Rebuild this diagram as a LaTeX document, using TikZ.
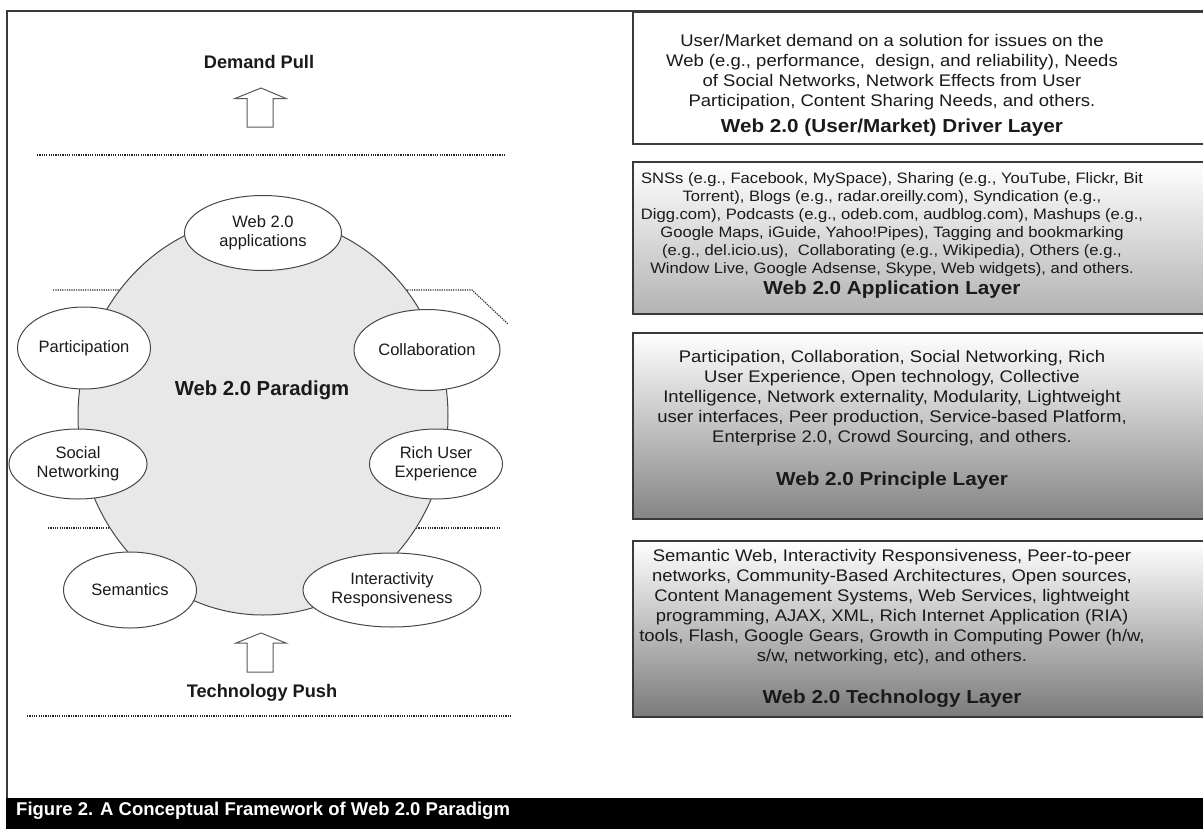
\documentclass[tikz,border=0pt]{standalone}
\usepackage{fontspec}
\setmainfont{Liberation Sans}
\newfontfamily\widesans[FakeStretch=1.1]{Liberation Sans}
\usetikzlibrary{shapes.geometric}
\definecolor{ink}{HTML}{1A1A1A}
\definecolor{rim}{HTML}{3A3A3A}
\begin{document}
\begin{tikzpicture}[x=1pt,y=-1pt,
  frameline/.style={draw=rim,line width=1.4pt},
  sepline/.style={draw=black!85,line width=1.1pt,dash pattern=on 1.2pt off 1.1pt},
  idea/.style={ellipse,draw=black!72,fill=white,line width=1pt,inner sep=0pt,
    align=center,text=ink,font=\fontsize{16.5}{19}\selectfont},
  pushpull/.style={draw=black!65,fill=white,line width=1pt,line join=miter},
  layerbox/.style={draw=rim,line width=1.3pt},
  fadebox/.style={layerbox,top color=white,bottom color=#1},
  layertext/.style={align=center,text=ink,inner sep=0pt},
  layertitle/.style={text=ink,inner sep=0pt,font=\widesans\bfseries\fontsize{18.8}{22}\selectfont},
  forcelabel/.style={text=ink,inner sep=0pt,font=\bfseries\fontsize{18.2}{22}\selectfont}]
\path[use as bounding box,clip] (0,0) rectangle (1203,828);
\fill[white] (0,0) rectangle (1203,828);

% outer frame and caption bar
\draw[frameline] (7,798) -- (7,11) -- (1215,11);
\fill[black] (6.3,798) rectangle (1215,830);
\node[anchor=west,text=white,inner sep=0pt,font=\bfseries\fontsize{18.5}{22}\selectfont]
  (caption) at (16,811) {Figure 2. A Conceptual Framework of Web 2.0 Paradigm};

% layer separators
\draw[sepline] (37,155) -- (506,155);
\draw[sepline] (53,290) -- (472,290) -- (508,324);
\draw[sepline] (48,528) -- (499,528);
\draw[sepline] (27,716) -- (512,716);

% demand pull / technology push
\node[forcelabel] (demand) at (259,62) {Demand Pull};
\draw[pushpull] (247,127) -- (247,98.5) -- (235,98.5) -- (261,88) -- (286,98.5)
  -- (273,98.5) -- (273,127) -- cycle;
\node[forcelabel] (techpush) at (262,693) {Technology Push};
\draw[pushpull] (247,672) -- (247,643) -- (236,643) -- (261,633) -- (286,643)
  -- (273,643) -- (273,672) -- cycle;

% paradigm core
\node[ellipse,draw=black!72,fill=black!9,line width=1pt,minimum width=370pt,
  minimum height=398pt,inner sep=0pt] (core) at (263,416) {};
\node[text=ink,inner sep=0pt,font=\bfseries\fontsize{20.3}{24}\selectfont]
  (paradigm) at (262,390) {Web 2.0 Paradigm};

\node[idea,minimum width=157pt,minimum height=75pt] (apps) at (263,233) {Web 2.0\\applications};
\node[idea,minimum width=133pt,minimum height=82pt] (part) at (84,348) {Participation};
\node[idea,minimum width=146pt,minimum height=81pt] (collab) at (427,350) {Collaboration};
\node[idea,minimum width=138pt,minimum height=70pt] (social) at (78,464) {Social\\Networking};
\node[idea,minimum width=133pt,minimum height=70pt] (rich) at (436,464) {Rich User\\Experience};
\node[idea,minimum width=133pt,minimum height=76pt] (sem) at (130,590) {Semantics};
\node[idea,minimum width=178pt,minimum height=74pt] (inter) at (392,590) {Interactivity\\Responsiveness};

% layer boxes
\path[layerbox,fill=white] (633,12) rectangle (1215,144);
\path[fadebox=black!30] (633,162) rectangle (1215,314);
\path[fadebox=black!48] (633,333) rectangle (1215,519);
\path[fadebox=black!52] (633,541) rectangle (1215,717);

\node[layertext,font=\widesans\fontsize{16.8}{20}\selectfont] (drivertext) at (892,72)
  {User/Market demand on a solution for issues on the\\
   Web (e.g., performance,\ \ design, and reliability), Needs\\
   of Social Networks, Network Effects from User\\
   Participation, Content Sharing Needs, and others.};
\node[layertitle] (drivertitle) at (892,128) {Web 2.0 (User/Market) Driver Layer};

\node[layertext,font=\widesans\fontsize{15.1}{18}\selectfont] (apptext) at (892,225)
  {SNSs (e.g., Facebook, MySpace), Sharing (e.g., YouTube, Flickr, Bit\\
   Torrent), Blogs (e.g., radar.oreilly.com), Syndication (e.g.,\\
   Digg.com), Podcasts (e.g., odeb.com, audblog.com), Mashups (e.g.,\\
   Google Maps, iGuide, Yahoo!Pipes), Tagging and bookmarking\\
   (e.g., del.icio.us),\ \ Collaborating (e.g., Wikipedia), Others (e.g.,\\
   Window Live, Google Adsense, Skype, Web widgets), and others.};
\node[layertitle] (apptitle) at (892,290) {Web 2.0 Application Layer};

\node[layertext,font=\widesans\fontsize{16.8}{20}\selectfont] (principletext) at (892,398)
  {Participation, Collaboration, Social Networking, Rich\\
   User Experience, Open technology, Collective\\
   Intelligence, Network externality, Modularity, Lightweight\\
   user interfaces, Peer production, Service-based Platform,\\
   Enterprise 2.0, Crowd Sourcing, and others.};
\node[layertitle] (principletitle) at (892,481) {Web 2.0 Principle Layer};

\node[layertext,font=\widesans\fontsize{16.8}{20}\selectfont] (techtext) at (892,607)
  {Semantic Web, Interactivity Responsiveness, Peer-to-peer\\
   networks, Community-Based Architectures, Open sources,\\
   Content Management Systems, Web Services, lightweight\\
   programming, AJAX, XML, Rich Internet Application (RIA)\\
   tools, Flash, Google Gears, Growth in Computing Power (h/w,\\
   s/w, networking, etc), and others.};
\node[layertitle] (techtitle) at (892,699) {Web 2.0 Technology Layer};
\end{tikzpicture}
\end{document}
